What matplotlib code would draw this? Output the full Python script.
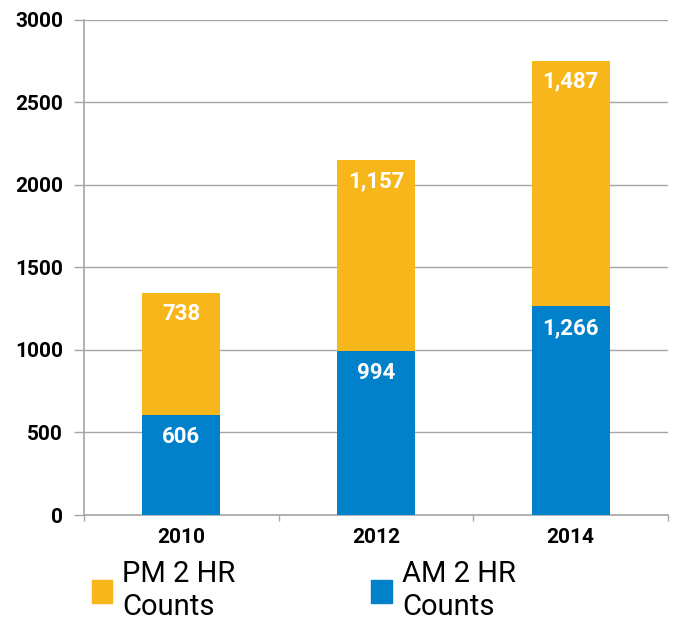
import numpy as np
import matplotlib.pyplot as plt
from matplotlib.patches import Patch

plt.rcParams['font.family'] = ['Roboto', 'DejaVu Sans']

years = ["2010", "2012", "2014"]
am_counts = [606, 994, 1266]
pm_counts = [738, 1157, 1487]

BLUE = "#0081C9"
ORANGE = "#F7B619"
GRID = "#a6a6a6"

fig = plt.figure(figsize=(6.75, 6.22), dpi=100)
ax = fig.add_axes([0.1244, 0.172, 0.8652, 0.796])

x = np.arange(len(years))
ax.bar(x, am_counts, width=0.4, color=BLUE, zorder=3)
ax.bar(x, pm_counts, width=0.4, bottom=am_counts, color=ORANGE, zorder=3)

# Value labels near the top of each segment
for i in range(len(years)):
    ax.annotate("{:,}".format(am_counts[i]), (x[i], am_counts[i]),
                xytext=(0, -16), textcoords="offset points",
                ha="center", va="center", color="white",
                fontsize=16, fontweight="bold", zorder=4)
    ax.annotate("{:,}".format(pm_counts[i]), (x[i], am_counts[i] + pm_counts[i]),
                xytext=(0, -15), textcoords="offset points",
                ha="center", va="center", color="white",
                fontsize=16, fontweight="bold", zorder=4)

ax.set_xlim(-0.5, 2.5)
ax.set_ylim(0, 3000)
ax.set_yticks(np.arange(0, 3001, 500))
ax.yaxis.grid(True, color=GRID, linewidth=1, zorder=0)

ax.set_xticks(x)
ax.set_xticklabels(years)
ax.set_xticks([-0.5, 0.5, 1.5, 2.5], minor=True)
ax.tick_params(axis="x", which="major", length=0, pad=9, labelsize=15)
ax.tick_params(axis="x", which="minor", length=4, color=GRID, width=1)
ax.tick_params(axis="y", length=7, color=GRID, width=1, pad=8, labelsize=15)
for lab in ax.get_xticklabels() + ax.get_yticklabels():
    lab.set_fontweight("bold")

for side in ["top", "right"]:
    ax.spines[side].set_visible(False)
for side in ["left", "bottom"]:
    ax.spines[side].set_color(GRID)
    ax.spines[side].set_linewidth(1.2)

handles = [Patch(color=ORANGE), Patch(color=BLUE)]
leg = fig.legend(handles, ["PM 2 HR\nCounts", "AM 2 HR\nCounts"],
                 loc="upper left", bbox_to_anchor=(0.136, 0.1), ncol=2,
                 frameon=False, fontsize=21, handlelength=0.7,
                 handleheight=0.85, handletextpad=0.35, columnspacing=4.65,
                 borderaxespad=0, borderpad=0, labelspacing=0)
for t in leg.get_texts():
    t.set_linespacing(1.25)

fig.savefig("out.png", dpi=100)
